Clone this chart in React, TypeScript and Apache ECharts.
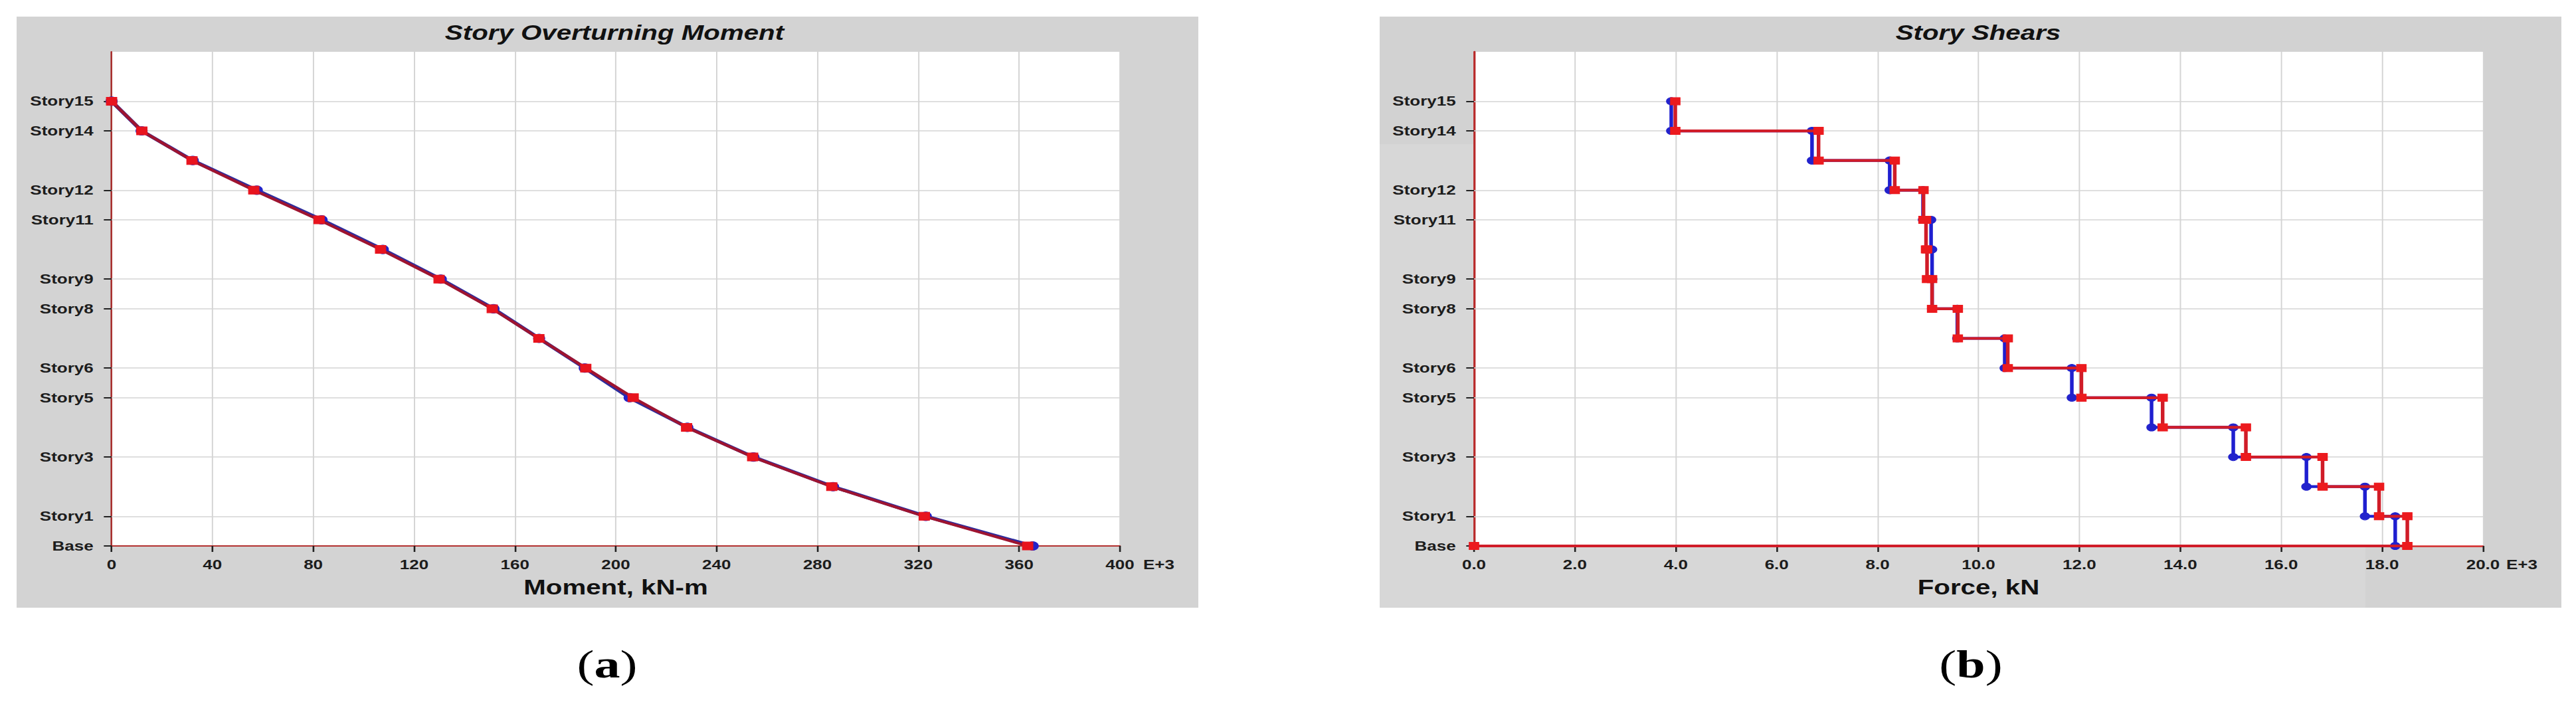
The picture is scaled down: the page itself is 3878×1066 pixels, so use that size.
import React, { useEffect, useRef } from "react";
import * as echarts from "echarts";

// ---------- data ----------
const storyNames = [
  "Base", "Story1", "Story2", "Story3", "Story4", "Story5", "Story6", "Story7",
  "Story8", "Story9", "Story10", "Story11", "Story12", "Story13", "Story14", "Story15",
];
const storyHeight = 3; // m
const elevations = [0, 3, 6, 9, 12, 15, 18, 21, 24, 27, 30, 33, 36, 39, 42, 45];
const elevationMax = 50;
const labeledStories = ["Base", "Story1", "Story3", "Story5", "Story6", "Story8", "Story9", "Story11", "Story12", "Story14", "Story15"];

// Story overturning moment (E+3 kN-m), Base .. Story15
const momentTicks = [0, 40, 80, 120, 160, 200, 240, 280, 320, 360, 400];
const momentBlue = [365.4, 323.0, 286.2, 254.6, 228.4, 205.5, 187.7, 169.6, 151.5, 130.6, 107.6, 83.3, 57.6, 32.2, 11.9, 0];
const momentRed = [363.4, 322.4, 285.7, 254.3, 228.1, 206.9, 188.1, 169.5, 151.0, 129.9, 106.7, 82.3, 56.4, 31.9, 12.0, 0];

// Story shears (E+3 kN), Story1 .. Story15
const shearTicks = [0, 2, 4, 6, 8, 10, 12, 14, 16, 18, 20];
const shearBlue = [18.26, 17.66, 16.5, 15.05, 13.43, 11.85, 10.52, 9.58, 9.08, 9.08, 9.06, 8.9, 8.24, 6.7, 3.91];
const shearRed = [18.5, 17.94, 16.82, 15.3, 13.65, 12.04, 10.58, 9.59, 9.08, 8.98, 8.96, 8.91, 8.34, 6.83, 3.99];

// ---------- layout ----------
const W = 3878;
const H = 1066;
const S = 1.3; // horizontal stretch of the source screenshot
const IW = W / S;
const px = (x: number) => x / S;

const FONT = "Liberation Sans";

function stepPoints(v: number[]) {
  const pts: number[][] = [];
  for (let i = v.length; i >= 1; i--) {
    pts.push([v[i - 1], elevations[i]]);
    pts.push([v[i - 1], elevations[i - 1]]);
  }
  pts.push([0, elevations[0]]);
  return pts;
}

const labelElev = labeledStories.map((n) => elevations[storyNames.indexOf(n)]);

function yAxisCfg(gridIndex: number, lineColor: string, lineWidth: number) {
  return {
    type: "value",
    gridIndex,
    min: 0,
    max: elevationMax,
    axisLine: { show: true, onZero: false, lineStyle: { color: lineColor, width: lineWidth } },
    axisTick: { show: true, customValues: labelElev, length: 9, lineStyle: { color: "#222", width: 2 } },
    axisLabel: {
      customValues: labelElev,
      formatter: (v: number) => storyNames[Math.round(v / storyHeight)],
      margin: 21,
      fontSize: 20,
      fontWeight: "bold",
      color: "#1c1c1c",
      fontFamily: FONT,
    },
    splitLine: { show: false },
  };
}

function xAxisCfg(gridIndex: number, ticks: number[], name: string, lineColor: string, lineWidth: number, dec: number) {
  return {
    type: "value",
    gridIndex,
    min: ticks[0],
    max: ticks[ticks.length - 1],
    interval: ticks[1] - ticks[0],
    axisLine: { show: true, onZero: false, lineStyle: { color: lineColor, width: lineWidth } },
    axisTick: { show: true, length: 9, lineStyle: { color: "#222", width: 2 } },
    axisLabel: {
      margin: 18,
      fontSize: 20,
      fontWeight: "bold",
      color: "#1c1c1c",
      fontFamily: FONT,
      formatter: (v: number) => v.toFixed(dec),
    },
    splitLine: { show: true, lineStyle: { color: "#d4d4d4", width: 1.5 } },
    name,
    nameLocation: "middle",
    nameGap: 62,
    nameTextStyle: { fontSize: 31, fontWeight: "bold", color: "#111", fontFamily: FONT, verticalAlign: "middle" },
  };
}

function gridLineSeries(idx: number) {
  return {
    type: "line",
    xAxisIndex: idx,
    yAxisIndex: idx,
    data: [],
    z: 1,
    silent: true,
    markLine: {
      z: 1,
      silent: true,
      symbol: ["none", "none"],
      label: { show: false },
      lineStyle: { color: "#d4d4d4", width: 1.5, type: "solid" },
      data: labelElev.filter((e) => e > 0).map((e) => ({ yAxis: e })),
    },
  };
}

function markerStyle(color: string) {
  return { color, borderColor: color, borderWidth: 1, opacity: 1 };
}

export default function App() {
  const ref = useRef<HTMLDivElement>(null);

  useEffect(() => {
    if (!ref.current) return;
    const chart = echarts.init(ref.current, null, { renderer: "svg", width: IW, height: H });

    const gridA = { left: px(168), top: 78, width: px(1686) - px(168), height: 744 };
    const gridB = { left: px(2219), top: 78, width: px(3738) - px(2219), height: 744 };

    const option = {
      animation: false,
      backgroundColor: "#ffffff",
      textStyle: { fontFamily: FONT },
      grid: [gridA, gridB],
      xAxis: [
        xAxisCfg(0, momentTicks, "Moment, kN-m", "#b3302f", 2, 0),
        xAxisCfg(1, shearTicks, "Force, kN", "#d42a2a", 2.5, 1),
      ],
      yAxis: [yAxisCfg(0, "#a8302f", 2), yAxisCfg(1, "#b82a2a", 2.5)],
      graphic: [
        { type: "rect", z: -100, shape: { x: px(25), y: 25, width: px(1804) - px(25), height: 890 }, style: { fill: "#d3d3d3" } },
        { type: "rect", z: -100, shape: { x: px(2077), y: 25, width: px(3856) - px(2077), height: 890 }, style: { fill: "#d2d2d2" } },
        { type: "rect", z: -100, shape: { x: px(2077), y: 217, width: px(3561) - px(2077), height: 698 }, style: { fill: "#d7d7d7" } },
        { type: "rect", z: -100, shape: { x: gridA.left, y: gridA.top, width: gridA.width, height: gridA.height }, style: { fill: "#ffffff" } },
        { type: "rect", z: -100, shape: { x: gridB.left, y: gridB.top, width: gridB.width, height: gridB.height }, style: { fill: "#ffffff" } },
        {
          type: "text", x: px(925), y: 49,
          style: { text: "Story Overturning Moment", fontSize: 31, fontWeight: "bold", fontStyle: "italic", fontFamily: FONT, fill: "#111", align: "center", verticalAlign: "middle" },
        },
        {
          type: "text", x: px(2978), y: 49,
          style: { text: "Story Shears", fontSize: 31, fontWeight: "bold", fontStyle: "italic", fontFamily: FONT, fill: "#111", align: "center", verticalAlign: "middle" },
        },
        {
          type: "text", x: px(1721), y: 850,
          style: { text: "E+3", fontSize: 20, fontWeight: "bold", fontFamily: FONT, fill: "#1c1c1c", align: "left", verticalAlign: "middle" },
        },
        {
          type: "text", x: px(3773), y: 850,
          style: { text: "E+3", fontSize: 20, fontWeight: "bold", fontFamily: FONT, fill: "#1c1c1c", align: "left", verticalAlign: "middle" },
        },
        {
          type: "text", x: px(914), y: 1000,
          style: {
            text: "{p|(}{b|a}{p|)}", align: "center", verticalAlign: "middle",
            rich: {
              p: { fontSize: 60, fontFamily: "Liberation Serif", fill: "#000" },
              b: { fontSize: 60, fontFamily: "Liberation Serif", fontWeight: "bold", fill: "#000" },
            },
          },
        },
        {
          type: "text", x: px(2967), y: 1000,
          style: {
            text: "{p|(}{b|b}{p|)}", align: "center", verticalAlign: "middle",
            rich: {
              p: { fontSize: 60, fontFamily: "Liberation Serif", fill: "#000" },
              b: { fontSize: 60, fontFamily: "Liberation Serif", fontWeight: "bold", fill: "#000" },
            },
          },
        },
      ],
      series: [
        gridLineSeries(0),
        gridLineSeries(1),
        {
          name: "Moment Blue",
          type: "line",
          xAxisIndex: 0, yAxisIndex: 0, z: 2,
          data: momentBlue.map((m, i) => [m, elevations[i]]),
          symbol: "circle", symbolSize: 13, showSymbol: true,
          itemStyle: markerStyle("#2323c8"),
          lineStyle: { color: "#2d2d9e", width: 5 },
        },
        {
          name: "Moment Red",
          type: "line",
          xAxisIndex: 0, yAxisIndex: 0, z: 3,
          data: momentRed.map((m, i) => [m, elevations[i]]),
          symbol: "rect", symbolSize: 12, showSymbol: true,
          itemStyle: markerStyle("#e8141e"),
          lineStyle: { color: "#9e1430", width: 4 },
        },
        {
          name: "Shear Blue",
          type: "line",
          xAxisIndex: 1, yAxisIndex: 1, z: 2,
          data: stepPoints(shearBlue),
          symbol: "circle", symbolSize: 11, showSymbol: true,
          itemStyle: markerStyle("#2222cc"),
          lineStyle: { color: "#1f1fd0", width: 4.2 },
        },
        {
          name: "Shear Red",
          type: "line",
          xAxisIndex: 1, yAxisIndex: 1, z: 3,
          data: stepPoints(shearRed),
          symbol: "rect", symbolSize: 11, showSymbol: true,
          itemStyle: markerStyle("#ec1a1e"),
          lineStyle: { color: "#d01c28", width: 4.2 },
        },
      ],
    };

    chart.setOption(option as any);
    return () => chart.dispose();
  }, []);

  return (
    <div style={{ position: "absolute", left: 0, top: 0, width: W, height: H, overflow: "hidden", background: "#fff" }}>
      <div
        ref={ref}
        style={{ width: IW, height: H, transform: `scaleX(${S})`, transformOrigin: "0 0" }}
      />
    </div>
  );
}
